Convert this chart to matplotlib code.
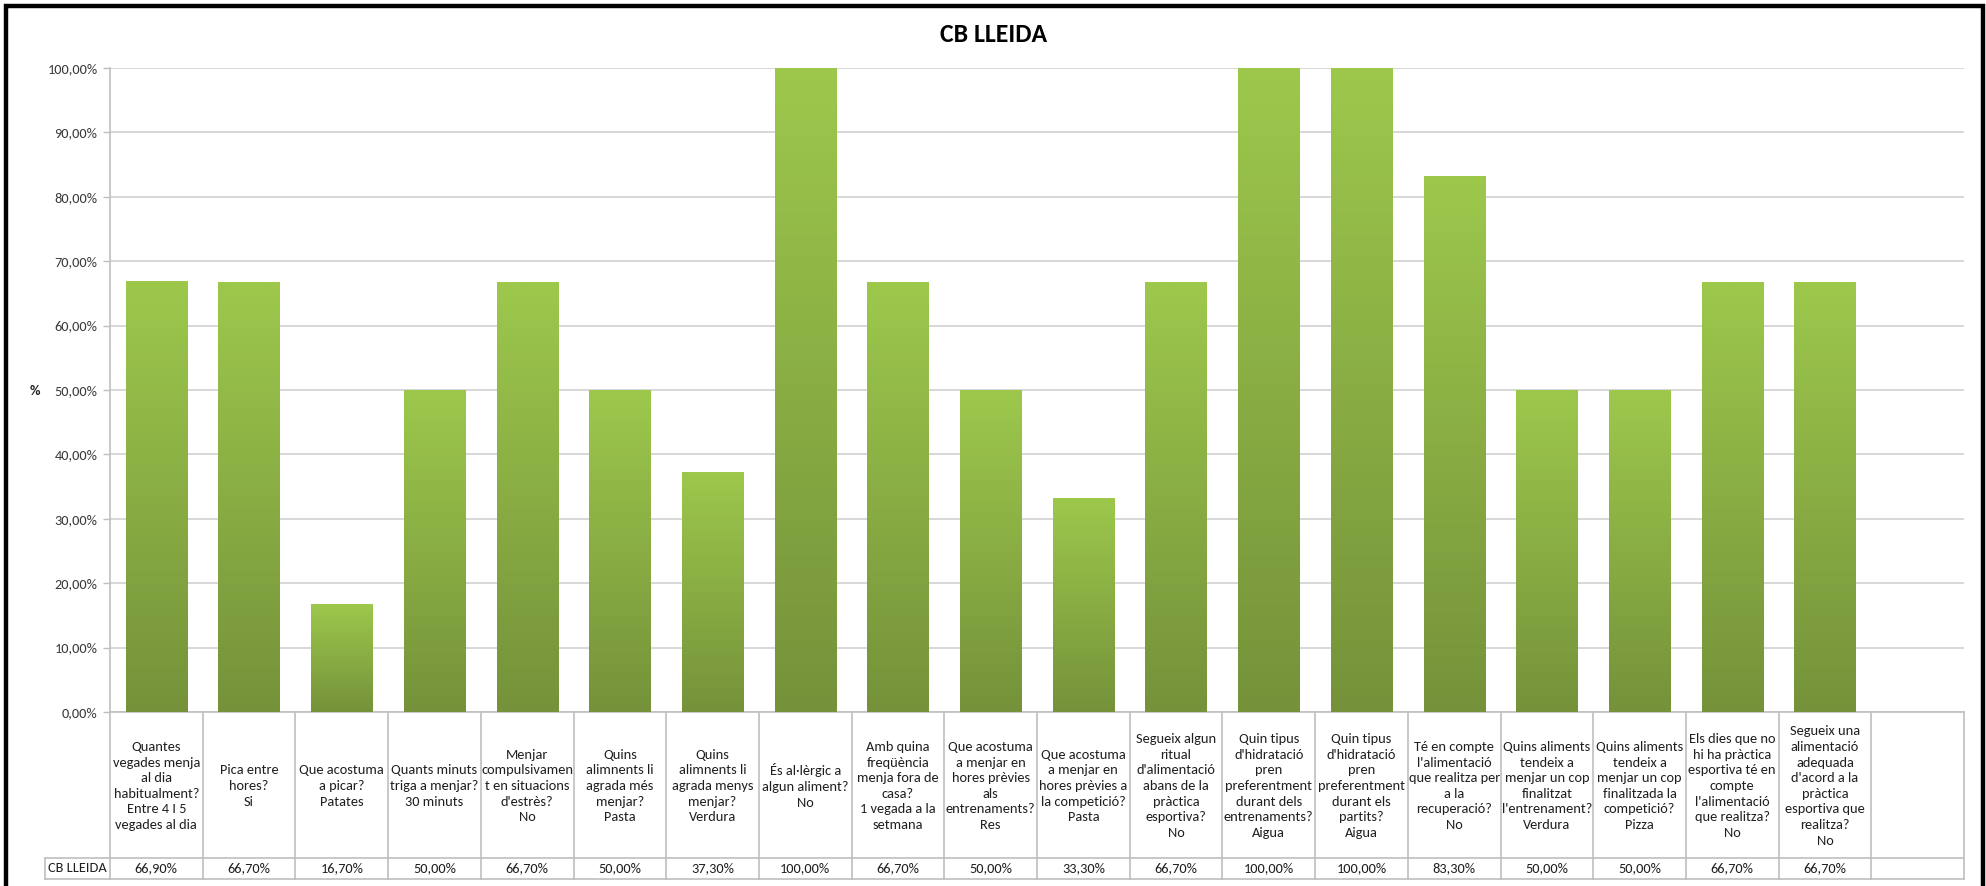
import numpy as np
import matplotlib
matplotlib.use("Agg")
import matplotlib.pyplot as plt
from matplotlib.transforms import blended_transform_factory
from matplotlib.patches import Rectangle
from matplotlib.lines import Line2D
from matplotlib.colors import LinearSegmentedColormap
from matplotlib.ticker import FuncFormatter, MultipleLocator
from matplotlib import font_manager

# ---- data -------------------------------------------------------------
title = "CB LLEIDA"
series_name = "CB LLEIDA"
y_label = "%"

questions = [
    "Quantes\nvegades menja\nal dia\nhabitualment?\nEntre 4 I 5\nvegades al dia",
    "Pica entre\nhores?\nSi",
    "Que acostuma\na picar?\nPatates",
    "Quants minuts\ntriga a menjar?\n30 minuts",
    "Menjar\ncompulsivamen\nt en situacions\nd'estrès?\nNo",
    "Quins\nalimnents li\nagrada més\nmenjar?\nPasta",
    "Quins\nalimnents li\nagrada menys\nmenjar?\nVerdura",
    "És al·lèrgic a\nalgun aliment?\nNo",
    "Amb quina\nfreqüència\nmenja fora de\ncasa?\n1 vegada a la\nsetmana",
    "Que acostuma\na menjar en\nhores prèvies\nals\nentrenaments?\nRes",
    "Que acostuma\na menjar en\nhores prèvies a\nla competició?\nPasta",
    "Segueix algun\nritual\nd'alimentació\nabans de la\npràctica\nesportiva?\nNo",
    "Quin tipus\nd'hidratació\npren\npreferentment\ndurant dels\nentrenaments?\nAigua",
    "Quin tipus\nd'hidratació\npren\npreferentment\ndurant els\npartits?\nAigua",
    "Té en compte\nl'alimentació\nque realitza per\na la\nrecuperació?\nNo",
    "Quins aliments\ntendeix a\nmenjar un cop\nfinalitzat\nl'entrenament?\nVerdura",
    "Quins aliments\ntendeix a\nmenjar un cop\nfinalitzada la\ncompetició?\nPizza",
    "Els dies que no\nhi ha pràctica\nesportiva té en\ncompte\nl'alimentació\nque realitza?\nNo",
    "Segueix una\nalimentació\nadequada\nd'acord a la\npràctica\nesportiva que\nrealitza?\nNo",
]

values = [66.9, 66.7, 16.7, 50.0, 66.7, 50.0, 37.3, 100.0, 66.7, 50.0,
          33.3, 66.7, 100.0, 100.0, 83.3, 50.0, 50.0, 66.7, 66.7]

# ---- fonts: prefer a narrow humanist face ------------------------------
installed = {f.name for f in font_manager.fontManager.ttflist}
font_sizes = [("Carlito", 10.4), ("Liberation Sans Narrow", 10.6),
              ("Lato", 9.9), ("Liberation Sans", 9.0)]
main_font, FS = next((n, s) for n, s in font_sizes if n in installed) \
    if any(n in installed for n, _ in font_sizes) else ("DejaVu Sans", 8.5)
plt.rcParams["font.family"] = [main_font, "DejaVu Sans"]

def pct(v):
    return f"{v:.2f}".replace(".", ",") + "%"

# ---- figure / axes ----------------------------------------------------
W, H = 1986, 886
fig = plt.figure(figsize=(W / 100, H / 100), dpi=100)
fig.patch.set_facecolor("white")

L, R, T, B = 110, 1964, 68, 712          # plot area in pixels
ax = fig.add_axes([L / W, 1 - B / H, (R - L) / W, (B - T) / H])

def ay(px):
    """pixel row -> axes fraction"""
    return (B - px) / (B - T)

def ax_x(px):
    return (px - L) / (R - L)

n_slots = len(questions) + 1               # one trailing empty slot
xpos = np.arange(len(questions))

GRID = "#D4D4D4"
LINE = "#BFBFBF"
TXT = "#1F1F1F"

bars = ax.bar(xpos, values, width=0.66, color="#8AAE44", zorder=2,
              linewidth=0)

# vertical gradient inside every bar
cmap = LinearSegmentedColormap.from_list("grn", ["#75923A", "#9DC84C"])
grad = np.linspace(0, 1, 256).reshape(-1, 1)
for b in bars:
    x0, w, h = b.get_x(), b.get_width(), b.get_height()
    im = ax.imshow(grad, extent=[x0, x0 + w, 0, h], origin="lower",
                   cmap=cmap, aspect="auto", zorder=3, interpolation="bilinear")
    im.set_clip_path(b)

ax.set_xlim(-0.5, n_slots - 0.5)
ax.set_ylim(0, 100)

ax.yaxis.set_major_locator(MultipleLocator(10))
ax.yaxis.set_major_formatter(FuncFormatter(lambda v, p: pct(v)))
ax.yaxis.grid(True, color=GRID, linewidth=1.3, zorder=0)
ax.set_axisbelow(True)
ax.tick_params(axis="y", length=5, width=1, color=LINE, pad=4,
               labelsize=FS, labelcolor="#3A3A3A")
ax.tick_params(axis="x", length=0, labelbottom=False)
for s in ("top", "right"):
    ax.spines[s].set_visible(False)
for s in ("left", "bottom"):
    ax.spines[s].set_color(LINE)
    ax.spines[s].set_linewidth(1.2)

# ---- data table under the plot ---------------------------------------
blend = blended_transform_factory(ax.transData, ax.transAxes)
y_cat_bot = ay(858)
y_val_bot = ay(879)
for i in range(n_slots + 1):
    ax.add_line(Line2D([i - 0.5, i - 0.5], [0, y_val_bot], transform=blend,
                       color=LINE, lw=1.2, clip_on=False))
x_lab = ax_x(45)
for yy in (y_cat_bot, y_val_bot):
    ax.add_line(Line2D([x_lab, 1], [yy, yy], transform=ax.transAxes,
                       color=LINE, lw=1.2, clip_on=False))
ax.add_line(Line2D([x_lab, x_lab], [y_cat_bot, y_val_bot], transform=ax.transAxes,
                   color=LINE, lw=1.2, clip_on=False))

y_cat_mid = ay(786)
y_val_mid = ay(868.5)
for i, q in enumerate(questions):
    ax.text(i, y_cat_mid, q, transform=blend, ha="center", va="center",
            multialignment="center", fontsize=FS, linespacing=1.36,
            color=TXT, clip_on=False)
    ax.text(i, y_val_mid, pct(values[i]), transform=blend, ha="center",
            va="center", fontsize=FS, color=TXT, clip_on=False)
ax.text(x_lab / 2, y_val_mid, series_name, transform=ax.transAxes,
        ha="center", va="center", fontsize=FS, color=TXT, clip_on=False)

# ---- titles -----------------------------------------------------------
fig.text(994 / W, 1 - 35 / H, title, ha="center", va="center",
         fontsize=18.5, fontweight="bold", color="black")
fig.text(35 / W, 1 - 391 / H, y_label, ha="center", va="center",
         fontsize=FS, fontweight="bold", color=TXT)

# ---- outer frame ------------------------------------------------------
fig.patches.append(Rectangle((5.5 / W, -0.05), (1982.5 - 5.5) / W, 1.05 - 5.5 / H,
                             transform=fig.transFigure, fill=False,
                             edgecolor="black", linewidth=3.2))

fig.savefig("out.png", dpi=100, facecolor="white")
